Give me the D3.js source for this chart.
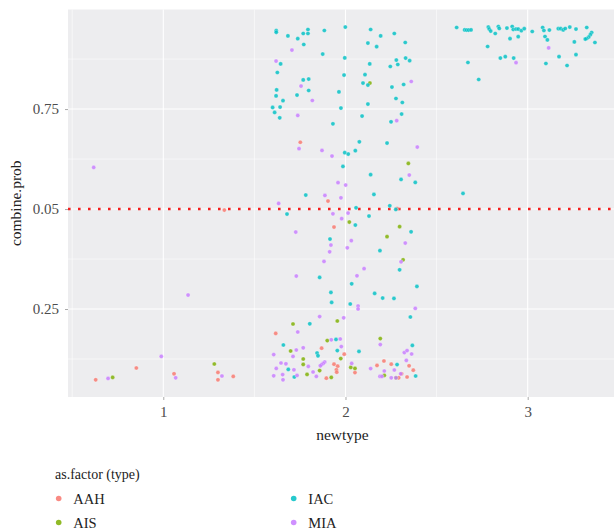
<!DOCTYPE html>
<html>
<head>
<meta charset="utf-8">
<script src="https://cdn.jsdelivr.net/npm/d3@7"></script>
<style>
  html, body { margin: 0; padding: 0; background: #ffffff; }
  svg { display: block; }
</style>
</head>
<body>
<svg id="chart" width="614" height="532"></svg>
<script>
// ---- data (newtype, combine.prob) per type ----
const types = ["AAH", "AIS", "IAC", "MIA"];
const typeColors = ["#F8766D", "#7CAE00", "#00BFC4", "#C77CFF"];

const AAH = [
  [1.335,0.4975],[1.752,0.667],[1.904,0.520],[2.283,0.501],[1.937,0.455],[1.617,0.189],
  [1.869,0.152],[1.993,0.137],[1.937,0.112],[1.957,0.107],[2.173,0.109],[2.211,0.120],
  [2.251,0.112],[2.349,0.108],[1.950,0.098],[1.952,0.092],[2.052,0.091],[2.372,0.097],
  [1.895,0.077],[2.292,0.078],[2.338,0.080],[2.308,0.088],[0.852,0.1025],[1.300,0.0915],
  [1.300,0.073],[1.384,0.0815],[1.059,0.088],[0.629,0.073]
];
const AIS = [
  [2.134,0.815],[2.345,0.614],[2.021,0.4675],[2.297,0.456],[2.228,0.431],[2.316,0.373],
  [1.712,0.2125],[1.955,0.220],[1.900,0.171],[2.191,0.176],[1.699,0.145],[1.768,0.125],
  [1.974,0.126],[1.768,0.1115],[2.029,0.104],[2.052,0.1015],[1.858,0.096],[1.789,0.0865],
  [1.922,0.079],[2.213,0.084],[2.277,0.078],[1.280,0.1125],[0.722,0.079]
];
const IAC = [
  [1.620,0.946],[1.620,0.942],[1.684,0.933],[1.738,0.926],[1.768,0.939],[1.794,0.949],
  [1.794,0.939],[1.771,0.9115],[1.884,0.9465],[1.999,0.955],[2.138,0.949],[2.193,0.933],
  [2.268,0.939],[2.123,0.915],[2.171,0.906],[2.328,0.9165],[1.644,0.863],[1.626,0.8415],
  [1.875,0.8875],[1.996,0.878],[2.133,0.863],[2.279,0.8725],[2.330,0.8775],[2.352,0.871],
  [2.246,0.8565],[2.287,0.8615],[1.768,0.823],[1.798,0.825],[1.798,0.7965],[1.992,0.835],
  [2.107,0.836],[2.096,0.815],[2.123,0.810],[2.319,0.8115],[2.255,0.805],[1.622,0.798],
  [1.619,0.783],[1.657,0.771],[1.734,0.785],[1.600,0.754],[1.641,0.755],[1.611,0.7415],
  [1.639,0.728],[1.964,0.793],[1.975,0.7525],[2.123,0.7625],[2.277,0.7765],[2.312,0.7665],
  [2.091,0.7325],[2.308,0.7375],[2.250,0.718],[1.931,0.713],[1.996,0.641],[2.015,0.6375],
  [2.054,0.646],[2.076,0.668],[2.228,0.665],[1.986,0.6065],[2.138,0.586],[2.305,0.574],
  [2.383,0.5665],[1.782,0.535],[2.156,0.5365],[1.679,0.4875],[2.058,0.503],[2.243,0.508],
  [2.276,0.499],[2.054,0.460],[2.129,0.4825],[2.360,0.443],[1.915,0.425],[2.189,0.396],
  [2.297,0.348],[1.858,0.329],[2.034,0.313],[2.392,0.3065],[1.920,0.2915],[2.160,0.289],
  [2.204,0.2775],[2.266,0.2765],[1.924,0.2665],[2.026,0.2625],[2.356,0.230],[1.804,0.213],
  [1.948,0.174],[2.367,0.159],[1.659,0.160],[1.955,0.146],[2.074,0.144],[1.844,0.140],
  [1.849,0.133],[2.283,0.111],[1.686,0.099],[1.719,0.080],[2.385,0.0825],
  [2.610,0.954],[2.654,0.948],[2.665,0.9475],[2.676,0.9475],[2.689,0.948],[2.784,0.955],
  [2.789,0.950],[2.797,0.945],[2.839,0.9565],[2.844,0.9515],[2.822,0.939],[2.886,0.9525],
  [2.915,0.9565],[2.921,0.949],[2.936,0.950],[2.948,0.950],[2.965,0.946],[2.981,0.951],
  [2.903,0.926],[2.948,0.931],[2.780,0.9065],[2.850,0.8775],[2.877,0.881],[2.923,0.8775],
  [2.672,0.8665],[2.731,0.824],[3.025,0.944],[3.082,0.954],[3.089,0.9465],[3.119,0.9475],
  [3.095,0.9315],[3.108,0.923],[3.168,0.951],[3.181,0.951],[3.195,0.948],[3.206,0.9515],
  [3.231,0.955],[3.265,0.950],[3.324,0.954],[3.351,0.9415],[3.344,0.936],[3.335,0.930],
  [3.324,0.9265],[3.316,0.925],[3.369,0.9165],[3.256,0.918],[3.172,0.881],[3.265,0.886],
  [3.100,0.864],[3.216,0.859],[2.645,0.539]
];
const MIA = [
  [0.618,0.604],[1.706,0.8975],[1.619,0.870],[1.756,0.8075],[2.361,0.819],[1.818,0.7715],
  [1.738,0.734],[2.281,0.721],[1.745,0.651],[1.871,0.6465],[1.926,0.6325],[2.394,0.655],
  [2.350,0.585],[1.959,0.566],[2.001,0.560],[1.887,0.534],[1.975,0.528],[1.633,0.514],
  [1.931,0.488],[2.014,0.490],[1.979,0.476],[1.727,0.4425],[2.032,0.421],[2.328,0.415],
  [1.920,0.410],[1.913,0.393],[2.010,0.403],[1.882,0.369],[2.305,0.368],[2.102,0.351],
  [1.730,0.3325],[2.063,0.333],[2.069,0.2575],[2.069,0.250],[2.383,0.2515],[1.858,0.231],
  [1.990,0.228],[1.738,0.1925],[1.922,0.173],[1.971,0.175],[2.191,0.161],[1.768,0.153],
  [1.730,0.1475],[1.977,0.156],[2.323,0.141],[2.338,0.146],[2.363,0.1375],[1.606,0.136],
  [1.712,0.1315],[2.334,0.1215],[1.646,0.115],[1.673,0.113],[1.796,0.1065],[1.886,0.1175],
  [1.878,0.114],[1.869,0.111],[1.862,0.108],[2.034,0.114],[1.620,0.1015],[1.717,0.098],
  [1.822,0.0925],[2.138,0.101],[2.213,0.095],[2.268,0.0975],[2.303,0.088],[1.606,0.083],
  [1.655,0.086],[1.734,0.084],[1.840,0.0815],[2.189,0.0815],[2.200,0.0815],[2.251,0.078],
  [2.277,0.078],[1.657,0.073],[1.136,0.285],[0.989,0.1315],[1.322,0.0825],[1.068,0.078],
  [0.697,0.0765],[2.936,0.866],[3.115,0.903]
];
const seriesData = [AAH, AIS, IAC, MIA];

const xTicks = [1, 2, 3];
const xMinor = [0.5, 1.5, 2.5, 3.5];
const yTicks = [0.25, 0.5, 0.75];
const yTickLabels = ["0.25", "0.05", "0.75"];
const yMinor = [0.125, 0.375, 0.625, 0.875];
const refLine = 0.5;
const xTitle = "newtype";
const yTitle = "combine.prob";
const legendTitle = "as.factor (type)";

// ---- layout ----
const svg = d3.select("#chart");
const panel = { left: 68, right: 618.8, top: 9.5, bottom: 397 };
const x = d3.scaleLinear().domain([0.477, 3.5]).range([panel.left, panel.right]);
const y = d3.scaleLinear().domain([0.03, 0.999]).range([panel.bottom, panel.top]);
const color = d3.scaleOrdinal().domain(types).range(typeColors);
const font = "'Liberation Serif', 'Times New Roman', serif";

svg.append("rect")
  .attr("x", panel.left).attr("y", panel.top)
  .attr("width", panel.right - panel.left).attr("height", panel.bottom - panel.top)
  .attr("fill", "#EDEDEF");

const grid = svg.append("g");
grid.selectAll(".ymin").data(yMinor).join("line")
  .attr("x1", panel.left).attr("x2", panel.right)
  .attr("y1", d => y(d)).attr("y2", d => y(d))
  .attr("stroke", "#fff").attr("stroke-width", 0.55);
grid.selectAll(".xmin").data(xMinor).join("line")
  .attr("y1", panel.top).attr("y2", panel.bottom)
  .attr("x1", d => x(d)).attr("x2", d => x(d))
  .attr("stroke", "#fff").attr("stroke-width", 0.55);
grid.selectAll(".ymaj").data(yTicks).join("line")
  .attr("x1", panel.left).attr("x2", panel.right)
  .attr("y1", d => y(d)).attr("y2", d => y(d))
  .attr("stroke", "#fff").attr("stroke-width", 1.1);
grid.selectAll(".xmaj").data(xTicks).join("line")
  .attr("y1", panel.top).attr("y2", panel.bottom)
  .attr("x1", d => x(d)).attr("x2", d => x(d))
  .attr("stroke", "#fff").attr("stroke-width", 1.1);

// axes
const xAxis = d3.axisBottom(x).tickValues(xTicks).tickFormat(d3.format("d"))
  .tickSize(3).tickPadding(6);
const gx = svg.append("g").attr("transform", `translate(0,${panel.bottom})`).call(xAxis);
gx.select(".domain").remove();
gx.selectAll("line").attr("stroke", "#aaa");
gx.selectAll("text").attr("fill", "#4D4D4D").style("font-family", font).style("font-size", "15px");

const yAxis = d3.axisLeft(y).tickValues(yTicks).tickFormat((d, i) => yTickLabels[i])
  .tickSize(3).tickPadding(6);
const gy = svg.append("g").attr("transform", `translate(${panel.left},0)`).call(yAxis);
gy.select(".domain").remove();
gy.selectAll("line").attr("stroke", "#aaa");
gy.selectAll("text").attr("fill", "#4D4D4D").style("font-family", font).style("font-size", "15px");

// reference line
svg.append("line")
  .attr("x1", panel.left).attr("x2", panel.right)
  .attr("y1", y(refLine)).attr("y2", y(refLine))
  .attr("stroke", "#F51f1f").attr("stroke-width", 2.6)
  .attr("stroke-dasharray", "2.6 7.4");

// points
const pts = svg.append("g");
seriesData.forEach((arr, i) => {
  pts.append("g").selectAll("circle").data(arr).join("circle")
    .attr("cx", d => x(d[0])).attr("cy", d => y(d[1]))
    .attr("r", 2.1)
    .attr("fill", color(types[i]))
    .attr("fill-opacity", 0.82)
    .attr("stroke", "#ffffff").attr("stroke-opacity", 0.45).attr("stroke-width", 0.6);
});

// axis titles
svg.append("text")
  .attr("x", 342.5).attr("y", 440)
  .attr("text-anchor", "middle")
  .style("font-family", font).style("font-size", "15.5px").attr("fill", "#222")
  .text(xTitle);
svg.append("text")
  .attr("transform", `translate(21,${(panel.top + panel.bottom) / 2}) rotate(-90)`)
  .attr("text-anchor", "middle")
  .style("font-family", font).style("font-size", "15.5px").attr("fill", "#222")
  .text(yTitle);

// legend
const lg = svg.append("g");
lg.append("text").attr("x", 55).attr("y", 479)
  .style("font-family", font).style("font-size", "14px").attr("fill", "#222")
  .text(legendTitle);
const legPos = [[58.7, 498.5], [58.7, 522.5], [293.7, 498.5], [293.7, 522.5]];
types.forEach((t, i) => {
  const [lx, ly] = legPos[i];
  lg.append("circle").attr("cx", lx).attr("cy", ly).attr("r", 2.8)
    .attr("fill", color(t)).attr("fill-opacity", 0.85);
  lg.append("text").attr("x", lx + 14.6).attr("y", ly).attr("dy", "0.35em")
    .style("font-family", font).style("font-size", "14.5px").attr("fill", "#222")
    .text(t);
});
</script>
</body>
</html>
